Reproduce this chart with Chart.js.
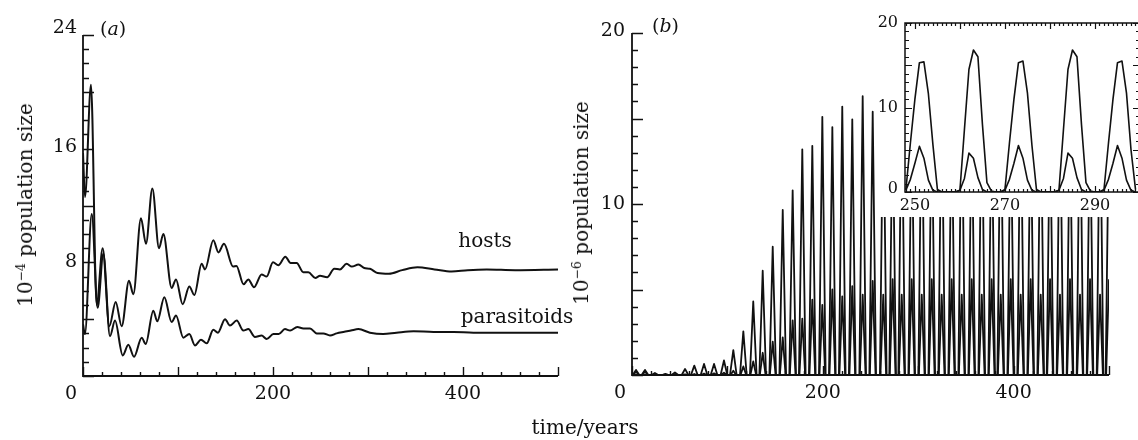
<!DOCTYPE html>
<html>
<head>
<meta charset="utf-8">
<script src="https://cdn.jsdelivr.net/npm/chart.js@4.4.1/dist/chart.umd.min.js"></script>
<style>
  html, body { margin: 0; padding: 0; background: #fff; }
  #page { position: relative; width: 1138px; height: 440px; overflow: hidden; font-family: "DejaVu Serif", serif; color: #111; }
  canvas { position: absolute; top: 0; }
  #chartA { left: 0; }
  #chartB { left: 600px; }
  #chartInset { left: 877px; background: #fff; z-index: 2; }
  .txt { position: absolute; white-space: nowrap; font-size: 20px; line-height: 1; transform: translate(-50%, -50%); }
  .ytitle { transform: translate(-50%, -50%) rotate(-90deg); }
  .panel { position: absolute; font-size: 19px; line-height: 1; }
  sup { font-size: 0.62em; vertical-align: 0.55em; line-height: 0; }
</style>
</head>
<body>
<div id="page">
  <canvas id="chartA" width="600" height="440"></canvas>
  <canvas id="chartB" width="538" height="440"></canvas>
  <canvas id="chartInset" width="263" height="217"></canvas>

  <div class="txt ytitle" style="left:25px; top:205px;">10<sup>−4</sup> population size</div>
  <div class="txt ytitle" style="left:581px; top:203px;">10<sup>−6</sup> population size</div>
  <div class="panel" style="left:100px; top:19px;">(<i>a</i>)</div>
  <div class="panel" style="left:652px; top:16px;">(<i>b</i>)</div>
  <div class="txt" style="left:485px; top:240px;">hosts</div>
  <div class="txt" style="left:517px; top:316px;">parasitoids</div>
  <div class="txt" style="left:585px; top:427px;">time/years</div>
</div>

<script>
// (a) stable host-parasitoid dynamics, 10^-4 population size
const aHostYears = [0, 2.1, 8.4, 14.4, 20.7, 27.7, 34.4, 40.7, 48.4, 53, 61, 66.3, 73, 80, 84.6,
  93.3, 97.9, 104.9, 111.9, 117.2, 124.9, 128.4, 137.2, 142.5, 148.4, 158, 161.5, 169, 174, 180,
  188, 193.3, 200, 205.6, 213, 218.5, 224.9, 231.9, 237.2, 244.5, 249.5, 257, 264.5, 270.5, 277.5,
  283, 290, 296, 302, 310, 322, 336, 352, 370, 388, 405, 425, 455, 500];
const aHostValues = [15.7, 12.6, 20.5, 5.0, 9.0, 3.5, 5.2, 3.5, 6.7, 5.75, 11.1, 9.3, 13.2, 9.0, 10.0,
  6.2, 6.8, 5.05, 6.3, 5.7, 7.9, 7.5, 9.55, 8.7, 9.3, 7.7, 7.75, 6.45, 6.8, 6.25,
  7.15, 7.0, 8.0, 7.8, 8.4, 7.95, 7.95, 7.3, 7.3, 6.9, 7.05, 6.95, 7.55, 7.5, 7.9,
  7.7, 7.85, 7.6, 7.55, 7.25, 7.2, 7.45, 7.65, 7.5, 7.35, 7.45, 7.5, 7.45, 7.5];

const aParaYears = [0, 2, 9.2, 15.4, 21.4, 28.4, 33.7, 41.8, 47.7, 53.7, 61.8, 66, 74, 78.2, 85.6,
  93.3, 97.9, 105.6, 111.9, 117.9, 124.2, 130.2, 137.2, 142, 149.5, 154.7, 161.8, 168.8, 174, 181,
  188, 193.3, 200.4, 206, 212.6, 218, 225.6, 232, 239, 246, 253, 260, 267, 274, 282,
  290, 302, 316, 330, 348, 369, 390, 411, 456, 500];
const aParaValues = [3.65, 2.95, 11.4, 4.8, 8.6, 2.8, 3.9, 1.45, 2.2, 1.35, 2.7, 2.25, 4.6, 3.85, 5.55,
  3.8, 4.25, 2.7, 2.95, 2.15, 2.55, 2.3, 3.25, 3.05, 4.0, 3.55, 3.9, 3.2, 3.3, 2.75,
  2.85, 2.6, 2.95, 2.95, 3.3, 3.2, 3.45, 3.35, 3.35, 3.0, 3.0, 2.85, 3.0, 3.1, 3.2,
  3.3, 3.05, 2.95, 3.05, 3.15, 3.1, 3.1, 3.05, 3.05, 3.05];

// (b) unstable cycles, 10^-6 population size: one host spike and one parasitoid spike per cycle
const bPeakYears = [4.2, 13.6, 24, 35, 45, 55.6, 65.3, 75.5, 86, 96.4,
  106.2, 116.7, 127.1, 137, 147.5, 158, 168.4, 178.5, 189, 199.5,
  210, 220.4, 230.9, 241.8, 252.3, 263.4, 273.2, 282.7, 293.2, 303.7,
  314.2, 324.6, 335.1, 345.6, 356.1, 366.6, 377, 386.5, 397,
  407.4, 417.9, 428.4, 438.2, 448.6, 459.1, 469.6, 480.1, 490.6, 500];
const bHostPeaks = [0.3, 0.3, 0.12, 0.06, 0.15, 0.35, 0.55, 0.65, 0.65, 0.85,
  1.45, 2.55, 4.3, 6.1, 7.5, 9.65, 10.8, 13.2, 13.4, 15.1,
  14.5, 15.7, 14.95, 16.3, 15.4, 16.8, 15.4, 16.8, 15.4, 16.8,
  15.4, 16.8, 15.4, 16.8, 15.4, 16.8, 15.4, 16.8, 15.4,
  16.8, 15.4, 16.8, 15.4, 16.8, 15.4, 16.8, 15.4, 16.8, 15.4];
const bParaPeaks = [0.2, 0.2, 0.05, 0.02, 0.03, 0.04, 0.06, 0.08, 0.1, 0.14,
  0.25, 0.5, 0.8, 1.3, 1.95, 2.2, 3.2, 3.3, 4.4, 4.1,
  5.0, 4.6, 5.2, 4.7, 5.5, 4.7, 5.6, 4.7, 5.6, 4.7,
  5.6, 4.7, 5.6, 4.7, 5.6, 4.7, 5.6, 4.7, 5.6,
  4.7, 5.6, 4.7, 5.6, 4.7, 5.6, 4.7, 5.6, 4.7, 5.6];

// inset: yearly values 248-299
const insetYears = [248, 249, 250, 251, 252, 253, 254, 255, 256, 257, 258, 259, 260,
  261, 262, 263, 264, 265, 266, 267, 268, 269, 270, 271, 272, 273, 274,
  275, 276, 277, 278, 279, 280, 281, 282, 283, 284, 285, 286, 287, 288,
  289, 290, 291, 292, 293, 294, 295, 296, 297, 298, 299];
const insetHosts = [0.3, 5.8, 11.0, 15.3, 15.4, 11.6, 5.6, 0.3, 0, 0, 0, 0, 0.2,
  7.4, 14.5, 16.8, 16.0, 8.0, 1.1, 0.1, 0, 0, 0.3, 5.8, 11.0, 15.3, 15.5,
  11.7, 5.5, 0.3, 0, 0, 0, 0, 0.2, 7.4, 14.5, 16.8, 16.0, 8.0, 1.1,
  0.1, 0, 0, 0.3, 5.8, 11.0, 15.3, 15.5, 11.7, 5.0, 0.3];
const insetParas = [0.2, 1.5, 3.4, 5.4, 4.0, 1.4, 0.2, 0, 0, 0, 0, 0, 0.2,
  1.6, 4.6, 4.0, 1.7, 0.3, 0, 0, 0, 0, 0.2, 1.5, 3.4, 5.5, 4.0,
  1.4, 0.2, 0, 0, 0, 0, 0, 0.2, 1.6, 4.6, 4.0, 1.7, 0.3, 0,
  0, 0, 0, 0.2, 1.5, 3.4, 5.5, 4.0, 1.4, 0.2, 0];

const INK = '#111';

function pairs(xs, ys) {
  return xs.map((x, i) => ({ x: x, y: ys[i] }));
}

// each cycle drawn as a spike that starts and ends at zero
function spikes(years, peaks, rise, fall) {
  const pts = [];
  years.forEach((p, i) => {
    pts.push({ x: p - rise, y: 0 }, { x: p, y: peaks[i] }, { x: p + fall, y: 0 });
  });
  return pts;
}

// inward ticks, axis lines and tick labels
const decor = {
  id: 'decor',
  afterDatasetsDraw(chart, args, o) {
    const { ctx, chartArea: a, scales: { x, y } } = chart;
    ctx.save();
    ctx.strokeStyle = INK;
    ctx.fillStyle = INK;
    ctx.lineWidth = o.axisWidth;
    ctx.beginPath();
    if (o.box) {
      ctx.rect(a.left, a.top, a.right - a.left, a.bottom - a.top);
    } else {
      ctx.moveTo(a.left, a.top);
      ctx.lineTo(a.left, a.bottom);
      ctx.lineTo(a.right, a.bottom);
    }
    ctx.stroke();

    ctx.lineWidth = o.tickWidth;
    ctx.beginPath();
    for (let k = Math.ceil(y.min / o.yStep - 1e-9); k * o.yStep <= y.max + 1e-9; k++) {
      const py = Math.round(y.getPixelForValue(k * o.yStep)) + 0.5;
      const len = k % o.yMajorEvery === 0 ? o.yMajor : o.yMinor;
      ctx.moveTo(a.left, py); ctx.lineTo(a.left + len, py);
      if (o.box) { ctx.moveTo(a.right, py); ctx.lineTo(a.right - len, py); }
    }
    for (let k = Math.ceil(x.min / o.xStep - 1e-9); k * o.xStep <= x.max + 1e-9; k++) {
      const px = Math.round(x.getPixelForValue(k * o.xStep)) + 0.5;
      const len = k % o.xMajorEvery === 0 ? o.xMajor : o.xMinor;
      ctx.moveTo(px, a.bottom); ctx.lineTo(px, a.bottom - len);
      if (o.box) { ctx.moveTo(px, a.top); ctx.lineTo(px, a.top + len); }
    }
    ctx.stroke();

    ctx.font = o.font;
    ctx.textBaseline = 'middle';
    ctx.textAlign = 'right';
    o.yLabels.forEach(l => ctx.fillText(l.t, a.left - o.yPad, y.getPixelForValue(l.v) + (l.dy || 0)));
    ctx.textAlign = 'center';
    o.xLabels.forEach(l => ctx.fillText(l.t, x.getPixelForValue(l.v) + (l.dx || 0), a.bottom + o.xPad));
    ctx.restore();
  }
};

function options(c) {
  return {
    responsive: false,
    animation: false,
    devicePixelRatio: 1,
    layout: { padding: c.pad },
    plugins: { legend: { display: false }, tooltip: { enabled: false }, decor: c.decor },
    elements: { point: { radius: 0 } },
    scales: {
      x: {
        type: 'linear', min: c.xmin, max: c.xmax,
        grid: { display: false, drawTicks: false }, border: { display: false }, ticks: { display: false },
        afterFit: s => { s.height = c.xh; }
      },
      y: {
        type: 'linear', min: c.ymin, max: c.ymax,
        grid: { display: false, drawTicks: false }, border: { display: false }, ticks: { display: false },
        afterFit: s => { s.width = c.yw; }
      }
    }
  };
}

const line = (pts, w, smooth) => ({
  data: pts, borderColor: INK, borderWidth: w, fill: false,
  cubicInterpolationMode: smooth ? 'monotone' : 'default', tension: 0,
  borderJoinStyle: 'round'
});

// Panel (a)
new Chart(document.getElementById('chartA'), {
  type: 'line',
  data: { datasets: [
    line(pairs(aHostYears, aHostValues), 2, true),
    line(pairs(aParaYears, aParaValues), 2, true)
  ] },
  options: options({
    pad: { left: 0, top: 35, right: 42, bottom: 0 }, xh: 64, yw: 83,
    xmin: 0, xmax: 500, ymin: 0, ymax: 24,
    decor: {
      box: false, axisWidth: 1.8, tickWidth: 1.4,
      yStep: 1, yMajorEvery: 4, yMajor: 11, yMinor: 6,
      xStep: 20, xMajorEvery: 5, xMajor: 9, xMinor: 4,
      font: '19px "DejaVu Serif"', yPad: 6, xPad: 18,
      yLabels: [{ v: 24, t: '24', dy: -7 }, { v: 16, t: '16', dy: -2 }, { v: 8, t: '8' }],
      xLabels: [{ v: 0, t: '0', dx: -12 }, { v: 200, t: '200' }, { v: 400, t: '400' }]
    }
  }),
  plugins: [decor]
});

// Panel (b)
new Chart(document.getElementById('chartB'), {
  type: 'line',
  data: { datasets: [
    line(spikes(bPeakYears, bHostPeaks, 3.5, 3.5), 1.8, false),
    line(spikes(bPeakYears, bParaPeaks, 3, 3), 1.8, false)
  ] },
  options: options({
    pad: { left: 0, top: 33, right: 29, bottom: 0 }, xh: 65, yw: 32,
    xmin: 0, xmax: 500, ymin: 0, ymax: 20,
    decor: {
      box: false, axisWidth: 1.8, tickWidth: 1.4,
      yStep: 1, yMajorEvery: 5, yMajor: 11, yMinor: 6,
      xStep: 20, xMajorEvery: 5, xMajor: 9, xMinor: 4,
      font: '19px "DejaVu Serif"', yPad: 7, xPad: 18,
      yLabels: [{ v: 20, t: '20', dy: -2 }, { v: 10, t: '10' }],
      xLabels: [{ v: 0, t: '0', dx: -12 }, { v: 200, t: '200' }, { v: 400, t: '400' }]
    }
  }),
  plugins: [decor]
});

// Inset of (b), years 248-300
new Chart(document.getElementById('chartInset'), {
  type: 'line',
  data: { datasets: [
    line(pairs(insetYears, insetHosts), 1.6, false),
    line(pairs(insetYears, insetParas), 1.6, false)
  ] },
  options: options({
    pad: { left: 0, top: 23, right: 0, bottom: 0 }, xh: 25, yw: 28,
    xmin: 247.8, xmax: 300, ymin: 0, ymax: 20,
    decor: {
      box: true, axisWidth: 1.5, tickWidth: 1.2,
      yStep: 1, yMajorEvery: 5, yMajor: 7, yMinor: 4,
      xStep: 1, xMajorEvery: 10, xMajor: 6, xMinor: 3,
      font: '16px "DejaVu Serif"', yPad: 7, xPad: 14,
      yLabels: [{ v: 20, t: '20' }, { v: 10, t: '10' }, { v: 0, t: '0', dy: -3 }],
      xLabels: [{ v: 250, t: '250' }, { v: 270, t: '270' }, { v: 290, t: '290' }]
    }
  }),
  plugins: [decor]
});
</script>
</body>
</html>
